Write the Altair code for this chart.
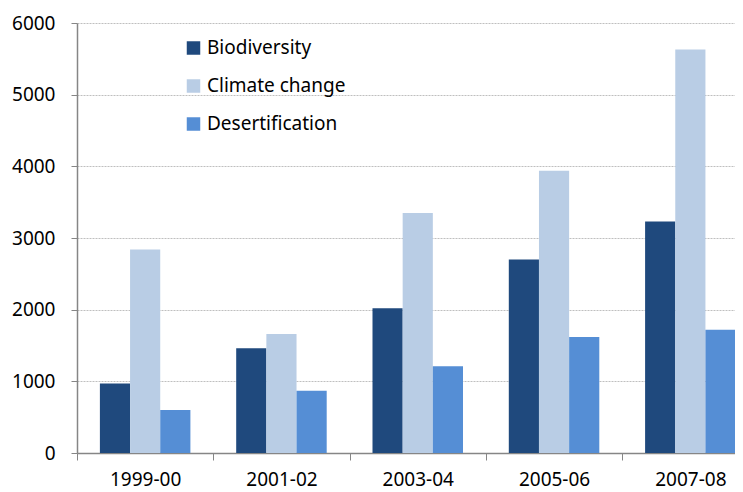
import altair as alt
import pandas as pd

years = ["1999-00", "2001-02", "2003-04", "2005-06", "2007-08"]
series = ["Biodiversity", "Climate change", "Desertification"]
biodiversity = [970, 1460, 2020, 2700, 3230]
climate_change = [2840, 1660, 3350, 3940, 5630]
desertification = [600, 870, 1210, 1620, 1720]
colors = ["#1F497D", "#B9CDE5", "#558ED5"]
y_ticks = [0, 1000, 2000, 3000, 4000, 5000, 6000]

rows = []
for s, vals in zip(series, [biodiversity, climate_change, desertification]):
    for yr, v in zip(years, vals):
        rows.append({"year": yr, "series": s, "value": v})
df = pd.DataFrame(rows)

FONT = "Noto Sans"
FS = 19

chart = alt.Chart(df).mark_bar().encode(
    x=alt.X(
        "year:N",
        sort=years,
        scale=alt.Scale(range=[0, 681.5], paddingInner=0, paddingOuter=0),
        axis=alt.Axis(
            title=None,
            labelAngle=0,
            tickBand="extent",
            labelFont=FONT,
            labelFontSize=FS,
            labelColor="#000000",
            labelPadding=10,
            tickSize=7,
            tickColor="#868686",
            domainColor="#868686",
            domainWidth=1.5,
            grid=False,
        ),
    ),
    xOffset=alt.XOffset("series:N", sort=series,
                        scale=alt.Scale(paddingInner=0, paddingOuter=0.759)),
    y=alt.Y(
        "value:Q",
        scale=alt.Scale(domain=[0, 6000], nice=False),
        axis=alt.Axis(
            title=None,
            values=y_ticks,
            format="d",
            labelFont=FONT,
            labelFontSize=FS,
            labelColor="#000000",
            labelPadding=16,
            tickSize=6,
            tickColor="#868686",
            domainColor="#868686",
            domainWidth=1.5,
            grid=True,
            gridColor="#BFBFBF",
            gridDash=[2, 1],
            gridWidth=1,
        ),
    ),
    color=alt.Color(
        "series:N",
        sort=series,
        scale=alt.Scale(domain=series, range=colors),
        legend=alt.Legend(
            title=None,
            orient="none",
            legendX=107,
            legendY=15.5,
            direction="vertical",
            symbolType="square",
            symbolSize=182,
            symbolStrokeWidth=0,
            labelFont=FONT,
            labelFontSize=FS,
            labelColor="#000000",
            labelOffset=4,
            rowPadding=18,
            padding=0,
        ),
    ),
).properties(
    width=658,
    height=430,
    autosize=alt.AutoSizeParams(type="none"),
    padding={"left": 69, "top": 15, "right": 0, "bottom": 39},
).configure_view(stroke=None)

chart.save("out.html", embed_options={"renderer": "svg", "actions": False})
